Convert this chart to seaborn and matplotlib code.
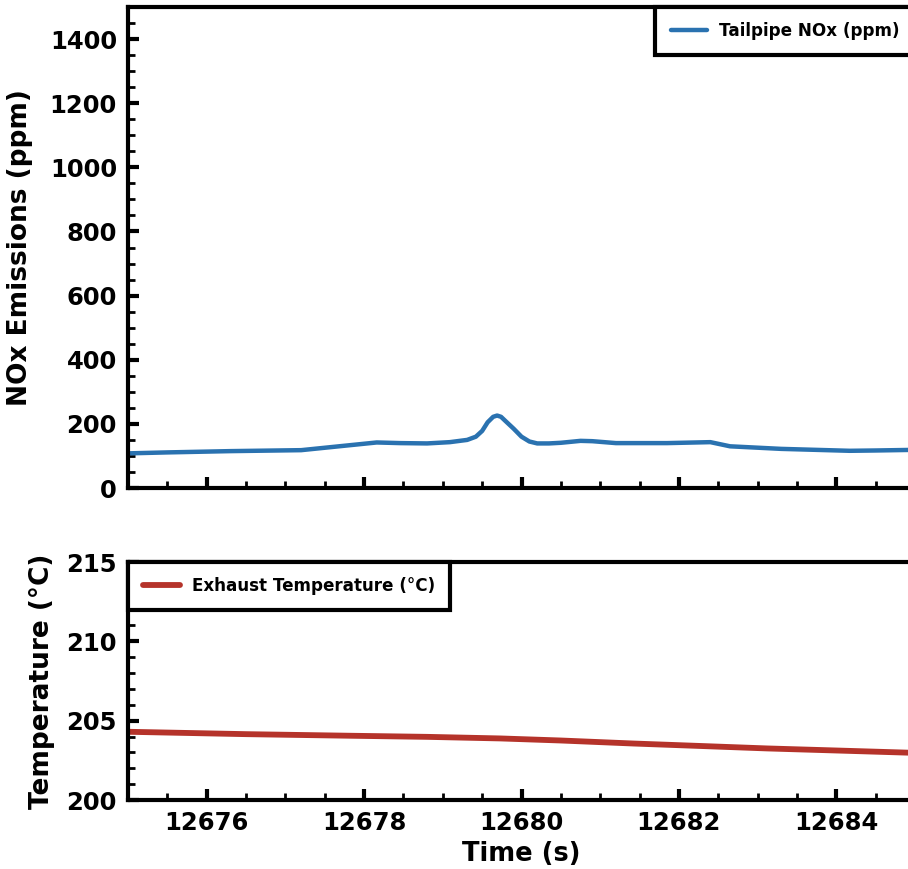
import matplotlib
matplotlib.use("Agg")
import matplotlib.pyplot as plt
import seaborn as sns
import pandas as pd
from matplotlib.ticker import MultipleLocator

sns.set_style("ticks")
plt.rcParams['font.family'] = ['DejaVu Sans']
plt.rcParams['font.weight'] = 'bold'
plt.rcParams['text.color'] = 'black'
plt.rcParams['axes.labelcolor'] = 'black'
plt.rcParams['xtick.color'] = 'black'
plt.rcParams['ytick.color'] = 'black'

# NOx data (time s, ppm)
nox_time = [12675.0, 12675.5, 12676.3, 12677.2, 12677.6, 12678.0, 12678.16, 12678.46,
            12678.8, 12679.09, 12679.31, 12679.42, 12679.5, 12679.57, 12679.64,
            12679.69, 12679.74, 12679.8, 12679.9, 12680.0, 12680.1, 12680.2,
            12680.35, 12680.5, 12680.75, 12680.9, 12681.2, 12681.85, 12682.4,
            12682.65, 12683.3, 12684.17, 12684.5, 12685.0]
nox_ppm = [108, 111, 115, 118, 128, 138, 142, 140,
           139, 143, 150, 160, 178, 205, 222,
           226, 222, 208, 185, 160, 145, 139,
           139, 141, 147, 146, 140, 140, 143,
           130, 122, 116, 117, 119]

# Exhaust temperature data (time s, degC)
temp_time = [12675.0, 12675.5, 12676.5, 12677.82, 12678.8, 12679.73, 12680.5,
             12681.42, 12682.3, 12683.12, 12684.0, 12685.0]
temp_c = [204.3, 204.25, 204.15, 204.05, 203.98, 203.88, 203.75,
          203.56, 203.4, 203.25, 203.12, 202.97]

nox_df = pd.DataFrame({"Time (s)": nox_time, "NOx": nox_ppm})
temp_df = pd.DataFrame({"Time (s)": temp_time, "Temp": temp_c})

W, H = 908, 869
fig = plt.figure(figsize=(W / 100, H / 100), dpi=100)

left = 128 / W
right = 915 / W
ax1 = fig.add_axes([left, (H - 488) / H, right - left, (488 - 7) / H])
ax2 = fig.add_axes([left, (H - 800) / H, right - left, (800 - 562) / H])

blue = "#2a72b0"
red = "#b5332a"

sns.lineplot(data=nox_df, x="Time (s)", y="NOx", ax=ax1, color=blue, lw=3.2,
             label="Tailpipe NOx (ppm)")
sns.lineplot(data=temp_df, x="Time (s)", y="Temp", ax=ax2, color=red, lw=4.2,
             label="Exhaust Temperature (°C)")

for ax in (ax1, ax2):
    ax.set_xlim(12675, 12685)
    ax.xaxis.set_major_locator(MultipleLocator(2))
    ax.xaxis.set_minor_locator(MultipleLocator(0.5))
    for s in ax.spines.values():
        s.set_linewidth(3)
        s.set_color("black")
    ax.tick_params(which="major", direction="in", length=8, width=3,
                   labelsize=17.5, top=False, right=False, pad=8)
    ax.tick_params(which="minor", direction="in", length=5, width=2,
                   top=False, right=False)
    for lbl in ax.get_xticklabels() + ax.get_yticklabels():
        lbl.set_fontweight("bold")

ax1.set_ylim(0, 1500)
ax1.yaxis.set_major_locator(MultipleLocator(200))
ax1.yaxis.set_minor_locator(MultipleLocator(50))
ax1.set_xticklabels([])
ax1.set_xlabel("")
ax1.set_ylabel("NOx Emissions (ppm)", fontsize=19, fontweight="bold", labelpad=12)

ax2.set_ylim(200, 215)
ax2.yaxis.set_major_locator(MultipleLocator(5))
ax2.yaxis.set_minor_locator(MultipleLocator(1))
ax2.set_xlabel("Time (s)", fontsize=18.5, fontweight="bold", labelpad=4)
ax2.set_ylabel("Temperature (°C)", fontsize=19, fontweight="bold", labelpad=8)

leg_kw = dict(borderaxespad=0, fancybox=False,
              prop={"weight": "bold", "size": 12.1}, handlelength=2.2,
              handletextpad=0.7, borderpad=0.9)
leg1 = ax1.legend(loc="upper right", **leg_kw)
leg2 = ax2.legend(loc="upper left", **leg_kw)
for leg in (leg1, leg2):
    fr = leg.get_frame()
    fr.set_edgecolor("black")
    fr.set_linewidth(3)
    fr.set_alpha(1)

fig.savefig("out.png", dpi=100)
